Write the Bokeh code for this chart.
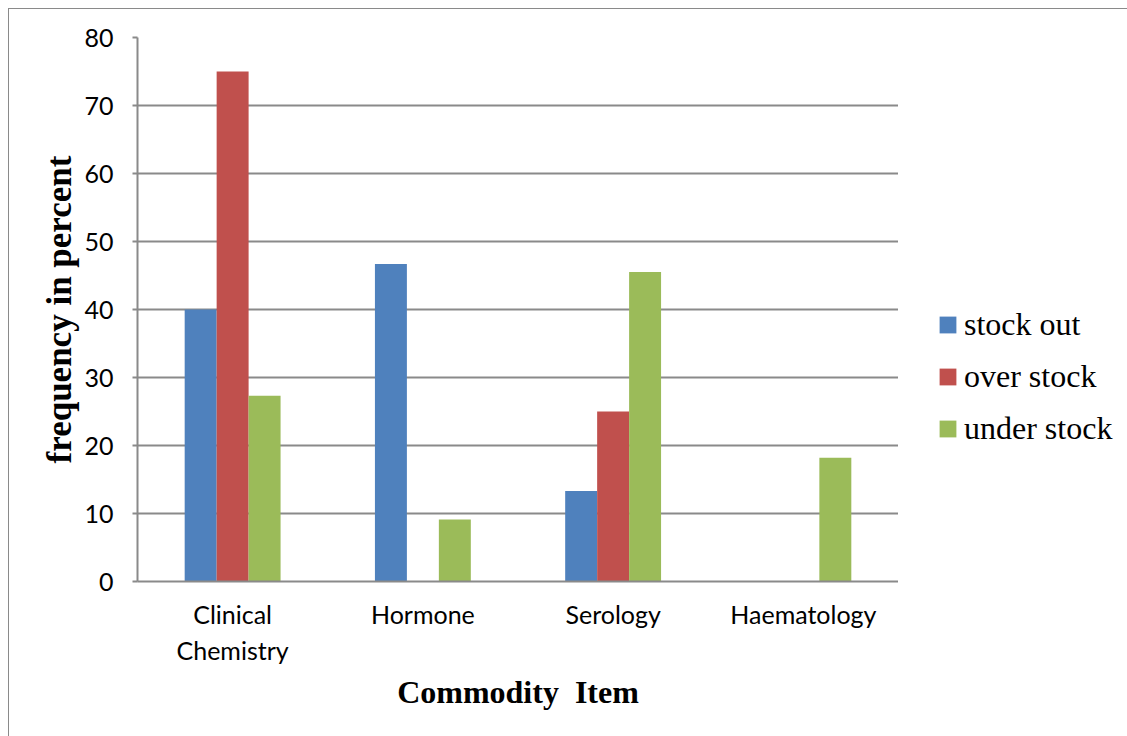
from bokeh.plotting import figure
from bokeh.layouts import row
from bokeh.models import FactorRange, Range1d, FixedTicker, Legend, LegendItem, ColumnDataSource
from bokeh.transform import dodge
from bokeh.embed import file_html
from bokeh.resources import INLINE

categories = ["Clinical\nChemistry", "Hormone", "Serology", "Haematology"]
stock_out = [40, 46.7, 13.3, 0]
over_stock = [75, 0, 25, 0]
under_stock = [27.3, 9.1, 45.5, 18.2]
series_names = ["stock out", "over stock", "under stock"]
series_keys = ["stock_out", "over_stock", "under_stock"]
colors = ["#4F81BD", "#C0504D", "#9BBB59"]
y_ticks = [0, 10, 20, 30, 40, 50, 60, 70, 80]

source = ColumnDataSource(data=dict(cat=categories, stock_out=stock_out,
                                     over_stock=over_stock, under_stock=under_stock))

grey = "#8a8a8a"
x_range = FactorRange(*categories, range_padding=0)
y_range = Range1d(0, 80)
p = figure(x_range=x_range, y_range=y_range,
           width=889, height=727,
           min_border_left=128, min_border_right=0,
           min_border_top=28, min_border_bottom=155,
           output_backend="svg", toolbar_location=None,
           outline_line_color=None)

bw = 0.168
offsets = [-bw, 0, bw]
for key, col, off in zip(series_keys, colors, offsets):
    p.vbar(x=dodge("cat", off, range=x_range), top=key, width=bw,
           source=source, fill_color=col, line_color=None)

# legend panel: a second canvas to the right of the chart; its renderers
# are zero-height (top == bottom) so they only supply the legend swatches
pl = figure(x_range=x_range, y_range=y_range,
            width=229, height=727,
            min_border_left=0, min_border_right=0, min_border_top=0, min_border_bottom=0,
            x_axis_type=None, y_axis_type=None,
            output_backend="svg", toolbar_location=None,
            outline_line_color=None)
pl.grid.visible = False
items = []
for key, name, col, off in zip(series_keys, series_names, colors, offsets):
    r = pl.vbar(x=dodge("cat", off, range=x_range), top=key, bottom=key, width=bw,
                source=source, fill_color=col, line_color=None)
    items.append(LegendItem(label=name, renderers=[r]))

legend = Legend(items=items, location=(39, 134), padding=0, margin=0,
                spacing=15, glyph_width=21, glyph_height=21, label_height=21,
                label_standoff=6, border_line_color=None, background_fill_alpha=0,
                label_text_font="Liberation Serif", label_text_font_size="32px",
                label_text_color="#000000")
pl.add_layout(legend, "center")

p.xgrid.grid_line_color = None
p.ygrid.grid_line_color = grey
p.ygrid.grid_line_width = 2
p.ygrid.ticker = FixedTicker(ticks=y_ticks)

p.yaxis.ticker = FixedTicker(ticks=y_ticks)
p.yaxis.minor_tick_line_color = None
p.yaxis.major_tick_in = 0
p.yaxis.major_tick_out = 5
p.yaxis.major_tick_line_color = grey
p.yaxis.major_tick_line_width = 2
p.yaxis.axis_line_color = grey
p.yaxis.axis_line_width = 2
p.yaxis.major_label_standoff = 19
p.yaxis.major_label_text_font = "Lato"
p.yaxis.major_label_text_font_size = "25px"
p.yaxis.major_label_text_color = "#000000"
p.yaxis.axis_label = "frequency in percent"
p.yaxis.axis_label_text_font = "Liberation Serif"
p.yaxis.axis_label_text_font_style = "bold"
p.yaxis.axis_label_text_font_size = "35px"
p.yaxis.axis_label_text_color = "#000000"
p.yaxis.axis_label_standoff = 2

p.xaxis.major_tick_line_color = None
p.xaxis.minor_tick_line_color = None
p.xaxis.axis_line_color = grey
p.xaxis.axis_line_width = 2
p.xaxis.major_label_standoff = 11
p.xaxis.major_label_text_font = "Lato"
p.xaxis.major_label_text_font_size = "25px"
p.xaxis.major_label_text_color = "#000000"
p.xaxis.axis_label = "Commodity \u00a0Item"
p.xaxis.axis_label_text_font = "Liberation Serif"
p.xaxis.axis_label_text_font_style = "bold"
p.xaxis.axis_label_text_font_size = "32px"
p.xaxis.axis_label_text_color = "#000000"
p.xaxis.axis_label_standoff = 6

layout = row(p, pl, spacing=0)
layout.styles = {"margin-left": "8px", "margin-top": "8px",
                 "border-left": "1px solid " + grey, "border-top": "1px solid " + grey}

open("out.html", "w").write(file_html(layout, INLINE))
